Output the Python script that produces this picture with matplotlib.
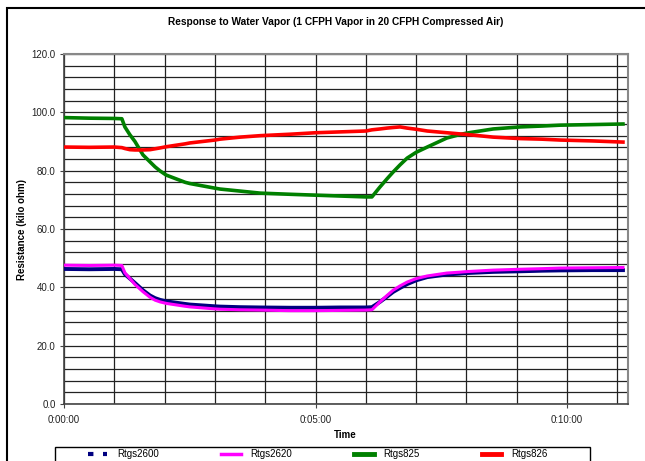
import numpy as np
import matplotlib
matplotlib.use("Agg")
from matplotlib import pyplot as plt
from matplotlib.ticker import MultipleLocator, FuncFormatter
from matplotlib.patches import Rectangle
from matplotlib.lines import Line2D

plt.rcParams['font.family'] = ['Liberation Sans', 'DejaVu Sans']

# time in minutes
minutes = [0, 0.5, 1.0, 1.15, 1.21, 1.31, 1.41, 1.57, 1.71, 1.81, 1.91, 2.03,
           2.41, 2.5, 3.0, 3.1, 3.5, 3.9, 4.5, 5.0, 5.5, 6.0, 6.12, 6.28,
           6.42, 6.54, 6.68, 6.82, 7.0, 7.22, 7.61, 7.87, 8.01, 8.53, 9.07,
           9.5, 9.86, 10.5, 11.11]

rtgs2600 = [46.3, 46.2, 46.3, 46.2, 44.5, 43.0, 41.5, 39.0, 37.2, 36.3, 35.7, 35.2,
            34.3, 34.1, 33.5, 33.4, 33.2, 33.1, 33.0, 33.0, 33.1, 33.1, 33.2, 35.0,
            36.8, 38.4, 39.8, 41.1, 42.4, 43.5, 44.4, 44.7, 44.9, 45.3, 45.5,
            45.7, 45.8, 45.9, 45.9]

rtgs2620 = [47.6, 47.5, 47.6, 47.5, 45.0, 43.0, 41.0, 38.5, 36.6, 35.6, 35.0, 34.5,
            33.5, 33.3, 32.6, 32.5, 32.3, 32.2, 32.0, 32.0, 32.1, 32.2, 32.3, 35.0,
            37.2, 39.0, 40.5, 41.8, 43.0, 43.9, 44.9, 45.2, 45.4, 45.9, 46.2,
            46.4, 46.6, 46.7, 46.8]

rtgs825 = [98.2, 98.0, 97.9, 97.8, 95.0, 92.3, 90.0, 85.4, 83.0, 81.3, 79.9, 78.5,
           76.0, 75.6, 74.0, 73.7, 73.0, 72.3, 71.9, 71.6, 71.3, 71.0, 71.0, 74.4,
           77.2, 79.5, 82.0, 84.3, 86.3, 88.1, 91.2, 92.4, 92.9, 94.3, 95.0,
           95.3, 95.6, 95.8, 96.0]

rtgs826 = [88.1, 88.0, 88.1, 87.9, 87.6, 87.2, 87.1, 87.1, 87.2, 87.5, 87.8, 88.2,
           89.2, 89.5, 90.5, 90.8, 91.5, 92.0, 92.5, 93.0, 93.3, 93.6, 94.0, 94.3,
           94.6, 94.8, 95.0, 94.6, 94.2, 93.6, 93.0, 92.6, 92.4, 91.5, 91.0,
           90.8, 90.5, 90.2, 89.8]

series_names = ['Rtgs2600', 'Rtgs2620', 'Rtgs825', 'Rtgs826']
series_colors = ['#000080', '#ff00ff', '#008000', '#ff0000']

t = np.array(minutes)

fig = plt.figure(figsize=(6.45, 4.61), dpi=100)

# outer chart frame (runs off the right / bottom edge)
fig.patches.append(Rectangle((7/645, -0.1), 1.2, 1 - 8/461 + 0.1,
                             transform=fig.transFigure, fill=False,
                             edgecolor='black', linewidth=1.5))

ax = fig.add_axes([64/645, 1 - 404/461, 564/645, 350/461])

ax.plot(t, rtgs2600, color=series_colors[0], linewidth=2.8, zorder=3)
ax.plot(t, rtgs2620, color=series_colors[1], linewidth=2.2, zorder=4)
ax.plot(t, rtgs825, color=series_colors[2], linewidth=2.6, zorder=3)
ax.plot(t, rtgs826, color=series_colors[3], linewidth=2.6, zorder=3)

ax.set_xlim(0, 11.21)
ax.set_ylim(0, 120)

ax.xaxis.set_major_locator(MultipleLocator(5))
ax.xaxis.set_minor_locator(MultipleLocator(1))
ax.xaxis.set_major_formatter(FuncFormatter(lambda v, p: "0:%02d:00" % int(round(v))))
ax.yaxis.set_major_locator(MultipleLocator(20))
ax.yaxis.set_minor_locator(MultipleLocator(4))
ax.yaxis.set_major_formatter(FuncFormatter(lambda v, p: "%.1f" % v))

ax.grid(True, which='both', color='#222222', linewidth=0.9)
ax.set_axisbelow(True)
ax.tick_params(axis='both', which='major', labelsize=7, length=3, color='#444444', pad=3)
ax.tick_params(axis='both', which='minor', length=0)
ax.tick_params(axis='x', pad=5, labelcolor='#222222')
ax.tick_params(axis='y', labelcolor='#222222')

for side in ['left', 'bottom']:
    ax.spines[side].set_color('#444444')
    ax.spines[side].set_linewidth(1.2)
for side in ['top', 'right']:
    ax.spines[side].set_color('#888888')
    ax.spines[side].set_linewidth(1.5)

fig.text(0.52, 1 - 22/461, "Response to Water Vapor (1 CFPH Vapor in 20 CFPH Compressed Air)",
         ha='center', va='center', fontsize=7.3, fontweight='bold')
fig.text(0.536, 1 - 435/461, "Time", ha='center', va='center', fontsize=7, fontweight='bold')
fig.text(22/645, 1 - 229/461, "Resistance (kilo ohm)", ha='center', va='center',
         rotation=90, fontsize=7, fontweight='bold')

# legend frame (cut off by the bottom edge, like the original)
fig.patches.append(Rectangle((55/645, -0.1), 535/645, 0.1 + 1 - 447/461,
                             transform=fig.transFigure, fill=False,
                             edgecolor='black', linewidth=1.0))

handles = [Line2D([], [], color=series_colors[0], linewidth=3, linestyle=(0, (1.3, 2.3))),
           Line2D([], [], color=series_colors[1], linewidth=2.5),
           Line2D([], [], color=series_colors[2], linewidth=3.5),
           Line2D([], [], color=series_colors[3], linewidth=3.5)]
leg = fig.legend(handles, series_names, loc='upper left', ncol=4,
                 bbox_to_anchor=(88/645, 1 - 449/461),
                 fontsize=7, frameon=False, borderpad=0, handlelength=2.0,
                 handletextpad=1.0, columnspacing=6.4, borderaxespad=0)

plt.savefig("out.png", dpi=100)
